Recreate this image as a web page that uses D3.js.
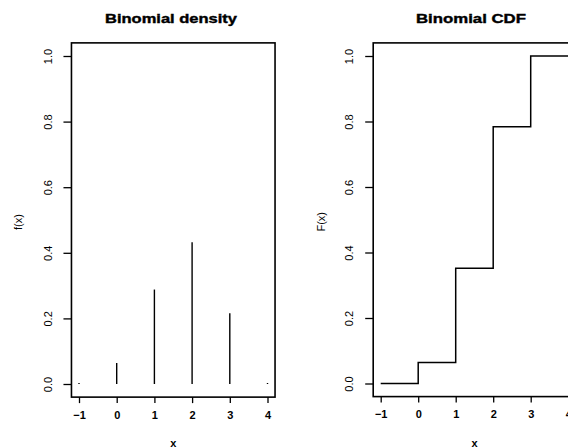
<!DOCTYPE html>
<html>
<head>
<meta charset="utf-8">
<script src="https://cdn.jsdelivr.net/npm/d3@7"></script>
<style>
  html, body { margin: 0; padding: 0; background: #fff; }
  svg { display: block; }
  text { font-family: "Liberation Sans", Arial, sans-serif; fill: #000; }
</style>
</head>
<body>
<svg id="chart" width="568" height="448"></svg>
<script>
// Binomial(n = 3, p = 0.6) evaluated over x = -1 .. 4
const xValues = [-1, 0, 1, 2, 3, 4];
const density = [0, 0.064, 0.288, 0.432, 0.216, 0];
const cdf = [0, 0.064, 0.352, 0.784, 1.0, 1.0];
const xTicks = [-1, 0, 1, 2, 3, 4];
const yTicks = [0, 0.2, 0.4, 0.6, 0.8, 1.0];
const titles = ["Binomial density", "Binomial CDF"];
const yLabels = ["f(x)", "F(x)"];
const xLabel = "x";

const svg = d3.select("#chart");

const panels = [
  { xr: [79, 267.5], yr: [384, 56], title: titles[0], ylab: yLabels[0], titleX: 171, ylabX: 18, tickLabX: 48, titleW: 132 },
  { xr: [380.7, 568.2], yr: [383.5, 56], title: titles[1], ylab: yLabels[1], titleX: 471, ylabX: 321, tickLabX: 349, titleW: 110 }
];

panels.forEach((p, i) => {
  const x = d3.scaleLinear().domain([-1, 4]).range(p.xr);
  const y = d3.scaleLinear().domain([0, 1]).range(p.yr);
  const g = svg.append("g");

  // plot frame (axis range padded by 4% each side)
  const x0 = x(-1.2), x1 = x(4.2), y0 = y(-0.04), y1 = y(1.04);
  g.append("rect")
    .attr("x", x0).attr("y", y1)
    .attr("width", x1 - x0).attr("height", y0 - y1)
    .attr("fill", "none").attr("stroke", "#000").attr("stroke-width", 1.6);

  // x axis
  const xAxis = g.append("g").attr("transform", `translate(0,${y0})`)
    .call(d3.axisBottom(x).tickValues(xTicks).tickSize(6).tickPadding(8)
      .tickFormat(d3.format("d")));
  xAxis.select(".domain").remove();
  xAxis.selectAll("line").attr("stroke", "#000").attr("stroke-width", 1.3);
  xAxis.selectAll("text").attr("font-size", 11).attr("font-weight", "bold")
    .attr("font-family", "Liberation Sans, Arial, sans-serif");

  // y axis with labels parallel to the axis
  const yAxis = g.append("g").attr("transform", `translate(${x0},0)`)
    .call(d3.axisLeft(y).tickValues(yTicks).tickSize(8).tickFormat(d3.format(".1f")));
  yAxis.select(".domain").remove();
  yAxis.selectAll("line").attr("stroke", "#000").attr("stroke-width", 1.3);
  yAxis.selectAll("text").remove();
  yAxis.selectAll(".tick").append("text")
    .attr("transform", `translate(${p.tickLabX - x0},0) rotate(-90)`)
    .attr("text-anchor", "middle").attr("dy", "0.35em")
    .attr("font-size", 11)
    .text(d => d3.format(".1f")(d));

  // titles and axis labels
  g.append("text").attr("x", p.titleX).attr("y", 23)
    .attr("text-anchor", "middle").attr("font-weight", "bold").attr("font-size", 13)
    .attr("stroke", "#000").attr("stroke-width", 0.4)
    .attr("textLength", p.titleW).attr("lengthAdjust", "spacingAndGlyphs")
    .text(p.title);
  g.append("text").attr("x", (p.xr[0] + p.xr[1]) / 2).attr("y", 447)
    .attr("text-anchor", "middle").attr("font-weight", "bold").attr("font-size", 11)
    .text(xLabel);
  g.append("text")
    .attr("transform", `translate(${p.ylabX},${(p.yr[0] + p.yr[1]) / 2 + 2}) rotate(-90)`)
    .attr("text-anchor", "middle").attr("dy", "0.35em").attr("font-size", 11)
    .text(p.ylab);

  if (i === 0) {
    // probability mass as vertical spikes
    g.selectAll("line.spike").data(xValues).enter().append("line")
      .attr("class", "spike")
      .attr("x1", d => x(d)).attr("x2", d => x(d))
      .attr("y1", y(0)).attr("y2", (d, j) => y(density[j]) - (density[j] === 0 ? 1 : 0))
      .attr("stroke", "#000").attr("stroke-width", 1.4);
  } else {
    // cumulative distribution as a step line
    const pts = xValues.map((d, j) => [d, cdf[j]]);
    const line = d3.line().x(d => x(d[0])).y(d => y(d[1])).curve(d3.curveStepAfter);
    g.append("path").datum(pts)
      .attr("d", line).attr("fill", "none")
      .attr("stroke", "#000").attr("stroke-width", 1.5);
  }
});
</script>
</body>
</html>
